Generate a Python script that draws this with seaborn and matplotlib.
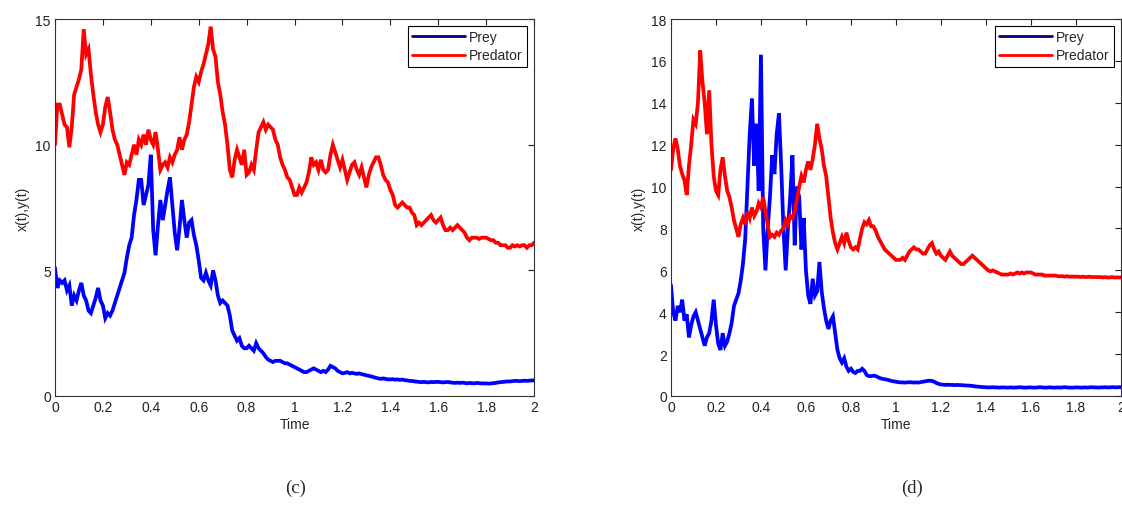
import numpy as np
import pandas as pd
import matplotlib
matplotlib.use("Agg")
import matplotlib.pyplot as plt
import seaborn as sns
from matplotlib.lines import Line2D

# ---- time grid (step 0.01 from 0 to 2) ----
time = np.round(np.arange(201) * 0.01, 2)

# ---- panel (c) ----
c_predator = [
    10.0, 11.6, 11.6, 11.2, 10.8, 10.7, 9.9, 10.7, 12.0, 12.3,
    12.6, 13.0, 14.6, 13.6, 13.8, 12.8, 12.0, 11.3, 10.8, 10.5,
    10.8, 11.5, 11.9, 11.3, 10.6, 10.2, 10.0, 9.6, 9.2, 8.8,
    9.3, 9.2, 9.6, 10.0, 9.6, 10.2, 10.0, 10.4, 10.0, 10.6,
    10.2, 10.0, 10.5, 9.8, 9.0, 9.2, 9.3, 9.1, 9.5, 9.3,
    9.6, 9.8, 10.3, 9.8, 10.2, 10.4, 10.9, 11.6, 12.3, 12.7,
    12.5, 12.9, 13.2, 13.6, 14.0, 14.7, 13.8, 13.5, 12.5, 12.0,
    11.3, 10.8, 10.0, 9.0, 8.7, 9.4, 9.8, 9.5, 9.2, 9.8,
    8.8, 8.9, 9.2, 9.0, 9.8, 10.5, 10.7, 10.9, 10.6, 10.8,
    10.7, 10.6, 10.2, 10.0, 9.5, 9.2, 9.0, 8.7, 8.6, 8.3,
    8.0, 8.0, 8.3, 8.1, 8.3, 8.5, 8.9, 9.5, 9.2, 9.3,
    9.0, 9.4, 9.0, 8.9, 9.0, 9.6, 10.0, 9.7, 9.4, 9.1,
    9.4, 9.0, 8.6, 8.9, 9.2, 9.3, 9.0, 8.8, 9.1, 8.7,
    8.3, 8.8, 9.1, 9.3, 9.5, 9.5, 9.2, 8.8, 8.6, 8.5,
    8.2, 8.0, 7.6, 7.5, 7.6, 7.7, 7.6, 7.5, 7.5, 7.3,
    7.2, 6.8, 6.9, 6.8, 6.9, 7.0, 7.1, 7.2, 7.0, 6.9,
    7.0, 7.1, 6.8, 6.6, 6.6, 6.7, 6.6, 6.7, 6.8, 6.7,
    6.6, 6.5, 6.3, 6.2, 6.3, 6.3, 6.3, 6.25, 6.3, 6.3,
    6.3, 6.25, 6.2, 6.2, 6.1, 6.1, 6.0, 6.0, 6.0, 5.9,
    5.9, 6.0, 5.95, 6.0, 5.95, 6.0, 6.0, 5.9, 6.0, 6.0,
    6.1,
]
c_prey = [
    5.1, 4.3, 4.6, 4.5, 4.6, 4.2, 4.4, 3.6, 4.0, 3.8,
    4.2, 4.5, 4.0, 3.8, 3.4, 3.3, 3.6, 3.9, 4.3, 3.8,
    3.6, 3.1, 3.3, 3.2, 3.4, 3.7, 4.0, 4.3, 4.6, 4.9,
    5.5, 6.0, 6.3, 7.2, 7.8, 8.6, 8.6, 7.6, 8.0, 8.4,
    9.6, 6.6, 5.6, 6.8, 7.8, 7.0, 7.6, 8.2, 8.7, 7.6,
    6.5, 5.8, 6.7, 7.8, 7.0, 6.3, 6.9, 7.0, 6.4, 6.0,
    5.4, 4.7, 4.6, 4.9, 4.6, 4.4, 5.0, 4.6, 4.0, 3.7,
    3.8, 3.7, 3.6, 3.2, 2.6, 2.4, 2.2, 2.3, 2.0, 1.9,
    1.9, 2.0, 1.9, 1.8, 2.1, 1.9, 1.8, 1.7, 1.55, 1.45,
    1.4, 1.35, 1.4, 1.4, 1.4, 1.35, 1.3, 1.3, 1.25, 1.2,
    1.15, 1.1, 1.05, 1.0, 0.95, 0.95, 1.0, 1.05, 1.1, 1.05,
    1.0, 0.95, 1.0, 0.95, 1.05, 1.2, 1.15, 1.1, 1.0, 0.95,
    0.9, 0.92, 0.95, 0.9, 0.92, 0.9, 0.88, 0.9, 0.87, 0.85,
    0.82, 0.8, 0.78, 0.75, 0.72, 0.7, 0.68, 0.7, 0.68, 0.66,
    0.66, 0.67, 0.65, 0.66, 0.64, 0.65, 0.63, 0.62, 0.6, 0.6,
    0.58, 0.57, 0.56, 0.55, 0.56, 0.55, 0.54, 0.56, 0.55, 0.56,
    0.56, 0.55, 0.54, 0.55, 0.56, 0.54, 0.53, 0.52, 0.53, 0.52,
    0.53, 0.52, 0.5, 0.52, 0.51, 0.5, 0.52, 0.51, 0.5, 0.5,
    0.5, 0.49, 0.5, 0.51, 0.52, 0.54, 0.55, 0.56, 0.57, 0.58,
    0.58, 0.59, 0.6, 0.6, 0.59, 0.6, 0.61, 0.6, 0.61, 0.62,
    0.62,
]

# ---- panel (d) ----
d_predator = [
    10.8, 11.8, 12.3, 11.8, 11.0, 10.6, 10.3, 9.6, 11.0, 12.0,
    13.2, 13.0, 14.0, 16.5, 15.0, 14.0, 12.5, 14.6, 12.0, 10.5,
    9.8, 9.6, 10.8, 11.4, 10.5, 9.8, 9.5, 9.0, 8.4, 8.0,
    7.6, 8.2, 8.5, 8.2, 8.8, 8.5, 9.0, 8.6, 8.8, 9.2,
    9.0, 9.5, 8.8, 8.2, 7.6, 7.7, 7.6, 7.8, 7.7, 7.9,
    8.0, 8.4, 8.2, 8.6, 8.5, 8.8, 9.4, 10.0, 10.5, 10.2,
    10.8, 11.2, 10.8, 11.3, 12.0, 13.0, 12.3, 11.8, 11.0, 10.5,
    9.5, 8.5, 7.8, 7.3, 7.0, 7.3, 7.6, 7.3, 7.8, 7.4,
    7.1, 7.0, 7.1, 7.0, 7.5, 8.0, 8.3, 8.2, 8.4, 8.1,
    8.1, 7.9, 7.6, 7.4, 7.2, 7.0, 6.9, 6.8, 6.7, 6.6,
    6.5, 6.5, 6.5, 6.6, 6.5, 6.7, 6.9, 7.0, 7.1, 7.0,
    7.0, 6.9, 6.8, 6.8, 7.0, 7.2, 7.3, 7.0, 6.8, 6.9,
    6.7, 6.6, 6.5, 6.7, 6.9, 6.7, 6.6, 6.5, 6.4, 6.3,
    6.3, 6.4, 6.5, 6.6, 6.7, 6.6, 6.5, 6.4, 6.3, 6.2,
    6.1, 6.0, 5.95, 6.0, 5.95, 5.9, 5.85, 5.8, 5.8, 5.8,
    5.8, 5.85, 5.8, 5.85, 5.9, 5.85, 5.9, 5.85, 5.9, 5.9,
    5.9, 5.85, 5.8, 5.8, 5.8, 5.8, 5.75, 5.75, 5.75, 5.75,
    5.75, 5.75, 5.72, 5.72, 5.72, 5.7, 5.72, 5.7, 5.7, 5.7,
    5.7, 5.7, 5.68, 5.7, 5.68, 5.68, 5.7, 5.68, 5.68, 5.68,
    5.68, 5.68, 5.66, 5.68, 5.66, 5.66, 5.68, 5.66, 5.66, 5.66,
    5.66,
]
d_prey = [
    5.3, 4.0, 3.6, 4.3, 4.0, 4.6, 3.6, 3.9, 2.8, 3.4,
    3.8, 4.0, 3.6, 3.2, 2.8, 2.4, 2.8, 3.0, 3.6, 4.6,
    3.4, 2.5, 2.2, 3.0, 2.4, 2.6, 3.0, 3.5, 4.3, 4.6,
    4.9, 5.5, 6.3, 7.5, 10.0, 12.5, 14.2, 11.0, 13.0, 9.8,
    16.3, 8.0, 6.0, 8.0, 9.5, 11.5, 10.6, 12.5, 13.5, 11.0,
    8.0, 6.0, 8.0, 9.5, 11.5, 7.2, 10.0, 9.5, 7.0, 8.5,
    6.0, 4.8, 4.4, 5.6, 4.8, 5.0, 6.4, 5.0, 4.2, 3.6,
    3.2, 3.6, 3.8, 3.0, 2.2, 1.8, 1.6, 1.8, 1.4, 1.2,
    1.3, 1.15, 1.1, 1.2, 1.2, 1.3, 1.2, 1.0, 0.95, 0.95,
    0.97, 0.95, 0.9, 0.85, 0.82, 0.8, 0.78, 0.75, 0.72, 0.7,
    0.68, 0.66, 0.65, 0.65, 0.64, 0.65, 0.66, 0.65, 0.64, 0.65,
    0.64, 0.66, 0.68, 0.7, 0.72, 0.73, 0.72, 0.68, 0.62, 0.58,
    0.55, 0.54, 0.53, 0.54, 0.53, 0.53, 0.52, 0.53, 0.52, 0.52,
    0.51, 0.5, 0.5, 0.49, 0.48, 0.46, 0.45, 0.44, 0.43, 0.42,
    0.42, 0.41, 0.41, 0.42, 0.41, 0.41, 0.4, 0.41, 0.41, 0.4,
    0.4, 0.41, 0.4, 0.4, 0.41, 0.42, 0.41, 0.4, 0.4, 0.41,
    0.41, 0.4, 0.4, 0.41, 0.42, 0.41, 0.4, 0.4, 0.41, 0.41,
    0.4, 0.4, 0.41, 0.4, 0.41, 0.42, 0.41, 0.4, 0.4, 0.4,
    0.41, 0.41, 0.4, 0.4, 0.41, 0.4, 0.41, 0.42, 0.41, 0.41,
    0.4, 0.41, 0.41, 0.42, 0.41, 0.41, 0.42, 0.42, 0.41, 0.42,
    0.42,
]

x_ticks = [0, 0.2, 0.4, 0.6, 0.8, 1, 1.2, 1.4, 1.6, 1.8, 2]
x_tick_labels = ["0", "0.2", "0.4", "0.6", "0.8", "1", "1.2", "1.4", "1.6", "1.8", "2"]
c_y_ticks = [0, 5, 10, 15]
d_y_ticks = [0, 2, 4, 6, 8, 10, 12, 14, 16, 18]

sns.set_style("white")
plt.rcParams["font.family"] = ["Liberation Sans", "DejaVu Sans"]

fig = plt.figure(figsize=(11.22, 5.10), dpi=100)
ax_c = fig.add_axes([0.049, 0.2216, 0.427, 0.739])
ax_d = fig.add_axes([0.598, 0.2216, 0.401, 0.739])


def draw_panel(ax, prey, predator, yticks, caption, cap_x):
    df = pd.DataFrame({"Time": time, "Prey": prey, "Predator": predator})
    sns.lineplot(data=df, x="Time", y="Prey", ax=ax, color="#0000ff", lw=2.7,
                 solid_joinstyle="miter")
    sns.lineplot(data=df, x="Time", y="Predator", ax=ax, color="#ff0000", lw=2.7,
                 solid_joinstyle="miter")
    ax.set_xlim(0, 2)
    ax.set_ylim(yticks[0], yticks[-1])
    ax.set_xticks(x_ticks)
    ax.set_xticklabels(x_tick_labels)
    ax.set_yticks(yticks)
    ax.tick_params(direction="in", top=True, right=True, length=4, width=0.8,
                   labelsize=10, colors="#222222", pad=3)
    for sp in ax.spines.values():
        sp.set_color("#333333")
        sp.set_linewidth(0.8)
    ax.set_xlabel("Time", fontsize=10, labelpad=2)
    ax.set_ylabel("x(t),y(t)", fontsize=10, labelpad=4)
    handles = [Line2D([], [], color="#000080", lw=2),
               Line2D([], [], color="#ff0000", lw=2)]
    leg = ax.legend(handles, ["Prey", "Predator"], loc="upper right", fontsize=10,
                    fancybox=False, framealpha=1, edgecolor="black",
                    handlelength=3.8, handletextpad=0.3, borderpad=0.3,
                    labelspacing=0.3, borderaxespad=0.5)
    leg.get_frame().set_linewidth(0.8)
    fig.text(cap_x, 0.025, caption, fontsize=13.5, family="Liberation Serif",
             ha="center", va="bottom")


draw_panel(ax_c, c_prey, c_predator, c_y_ticks, "(c)", 296 / 1122)
draw_panel(ax_d, d_prey, d_predator, d_y_ticks, "(d)", 912 / 1122)

fig.savefig("out.png", dpi=100)
